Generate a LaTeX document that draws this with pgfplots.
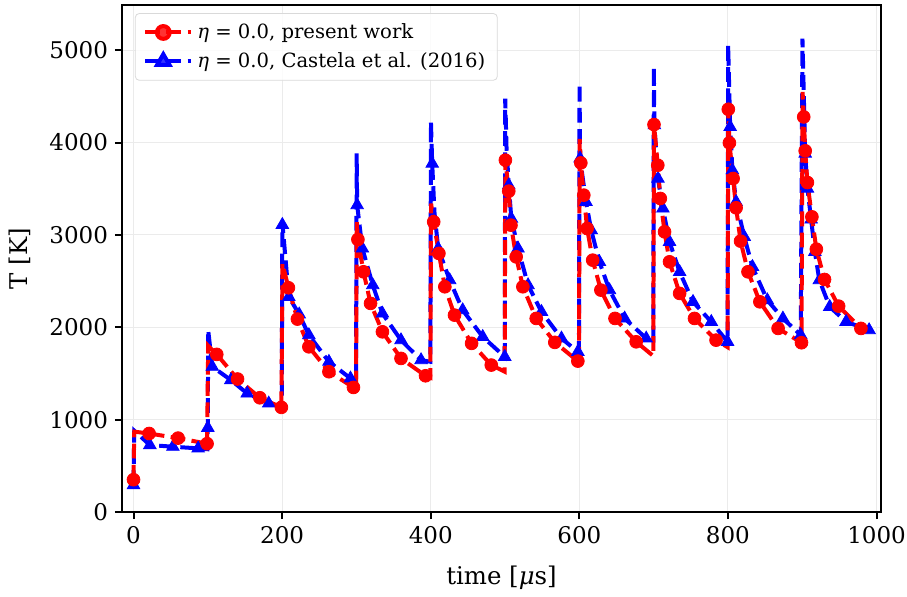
\documentclass[border=0pt]{standalone}
\usepackage{pgfplots}
\pgfplotsset{compat=1.18}
\usepackage{pgfplotstable}
\usepackage{fontspec}
\setmainfont{DejaVu Serif}

\pgfplotstableread{
t T
0 350
1 870
21 850
60 800
99 740
100.5 1800
112 1707
140 1440
170 1237
199 1133
200.5 2690
208.5 2428
220.6 2089
236 1789
263 1519
296 1349
299.5 1340
300.5 3140
302 2951
309.5 2601
319 2259
335 1951
360 1663
393 1475
399.5 1455
400.5 3340
404 3142
411 2800
419 2439
432 2132
455 1826
481.5 1591
499.5 1520
500.5 3810
505 3474
508 3106
515 2763
524 2439
542 2096
567 1837
598 1634
599.5 1630
600.5 4040
602 3780
606 3431
610.5 3070
618 2727
629 2403
648 2096
676.5 1843
699.5 1690
700.5 4195
705.6 3755
709 3395
714.7 3034
721.4 2709
735 2367
755 2096
784 1861
799.5 1785
800.5 4361
802 3997
807 3611
811 3294
817 2933
827 2601
843 2276
867.5 1988
899 1833
900.5 4549
902 4278
904 3911
907 3568
913 3196
919 2846
930 2518
949 2229
979 1988
}\redline

\pgfplotstableread{
t T
0 350
21 850
60 800
99 740
112 1707
140 1440
170 1237
199 1133
208.5 2428
220.6 2089
236 1789
263 1519
296 1349
302 2951
309.5 2601
319 2259
335 1951
360 1663
393 1475
404 3142
411 2800
419 2439
432 2132
455 1826
481.5 1591
500.5 3810
505 3474
508 3106
515 2763
524 2439
542 2096
567 1837
598 1634
602 3780
606 3431
610.5 3070
618 2727
629 2403
648 2096
676.5 1843
700.5 4195
705.6 3755
709 3395
714.7 3034
721.4 2709
735 2367
755 2096
784 1861
800.5 4361
802 3997
807 3611
811 3294
817 2933
827 2601
843 2276
867.5 1988
899 1833
902 4278
904 3911
907 3568
913 3196
919 2846
930 2518
949 2229
979 1988
}\redmarks

\pgfplotstableread{
t T
0 292
1 880
22 725
53 707
87 689
99.5 680
100 912
100.5 1970
106 1573
131 1429
153 1284
182 1176
199.5 1140
200.3 3140
209 2330
223 2140
236 1916
263 1627
292 1447
299.5 1420
300.3 3882
301 3323
308 2854
322 2457
335 2150
360 1861
387 1645
399.5 1627
400.3 4224
402 3773
405 3250
410 2854
425.5 2511
443 2186
470 1897
499.6 1681
500.3 4477
502 3950
505 3539
508.5 3178
517.5 2854
531 2457
549 2168
576 1880
598 1735
599.5 1730
600.3 4640
601 3828
609 3358
616 3052
627 2709
640.6 2403
661 2096
690 1880
699.5 1861
700.3 4820
701 4188
705.8 3611
712.5 3287
721.4 2925
735 2600
753 2276
777.6 2059
799.5 1843
800.3 5054
803 4170
806 3701
811 3358
822 2979
833 2655
853 2294
874 2096
898 1916
900.3 5126
904 3882
907 3503
912 3168
917 2817
923 2511
937 2222
959 2060
990 1970
}\blueline

\pgfplotstableread{
t T
0 292
22 725
53 707
87 689
100 912
106 1573
131 1429
153 1284
182 1176
200.3 3110
209 2330
223 2140
236 1916
263 1627
292 1447
301 3323
308 2854
322 2457
335 2150
360 1861
387 1645
402 3773
410 2854
425.5 2511
443 2186
470 1897
499.6 1681
505 3539
508.5 3178
517.5 2854
531 2457
549 2168
576 1880
598 1735
601 3828
609 3358
616 3052
627 2709
640.6 2403
661 2096
690 1880
701 4188
705.8 3611
712.5 3287
721.4 2925
735 2600
753 2276
777.6 2059
799.5 1843
803 4170
806 3701
811 3358
822 2979
833 2655
853 2294
874 2096
898 1916
904 3882
907 3503
912 3168
917 2817
923 2511
937 2222
959 2060
990 1970
}\bluemarks

\definecolor{gridgray}{RGB}{235,235,235}

\begin{document}
\begin{tikzpicture}
\begin{axis}[
  scale only axis,
  width=379.5pt, height=253.5pt,
  xmin=-15.5, xmax=1006,
  ymin=0, ymax=5490,
  xtick={0,200,400,600,800,1000},
  ytick={0,1000,2000,3000,4000,5000},
  tick pos=left,
  tick align=outside,
  major tick length=3.5pt,
  every tick/.style={black, line width=1pt},
  axis line style={line width=1pt},
  grid=major,
  major grid style={gridgray, line width=0.5pt},
  /pgf/number format/assume math mode=true,
  /pgf/number format/1000 sep={},
  tick label style={font=\fontsize{11.5}{13}\selectfont},
  xlabel={time [\textit{μ}s]},
  ylabel={T [K]},
  every axis y label/.style={at={(axis description cs:-0.134,0.5)}, rotate=90, anchor=center, font=\fontsize{12.2}{14}\selectfont},
  every axis x label/.style={at={(axis description cs:0.5,-0.13)}, anchor=center, font=\fontsize{12.2}{14}\selectfont},
  legend cell align=left,
  legend style={at={(axis description cs:0.017,0.984)}, anchor=north west,
    draw=black!15, rounded corners=2pt, fill=white, fill opacity=0.8, text opacity=1,
    font=\fontsize{9.8}{12}\selectfont, row sep=1.5pt, inner xsep=4pt, inner ysep=3pt},
  legend image code/.code={
    \draw[mark repeat=2,mark phase=2,#1] plot coordinates {(0pt,0pt) (9pt,0pt) (18pt,0pt)};
    \path (0pt,0pt) -- (23pt,0pt);
  },
]
\addlegendimage{red, line width=2pt, dash pattern=on 7.4pt off 3.2pt, mark=*, mark size=3.2pt, mark options={solid, fill=red}}
\addlegendentry{\textit{η} = 0.0, present work}
\addlegendimage{blue, line width=2pt, dash pattern=on 7.4pt off 3.2pt, mark=triangle*, mark size=3.6pt, mark options={solid, fill=blue}}
\addlegendentry{\textit{η} = 0.0, Castela et al. (2016)}

\addplot[forget plot, blue, line width=2pt, dash pattern=on 7.4pt off 3.2pt, no marks] table[x=t,y=T] {\blueline};
\addplot[forget plot, blue, only marks, mark=triangle*, mark size=3.6pt, mark options={fill=blue}] table[x=t,y=T] {\bluemarks};
\addplot[forget plot, red, line width=2pt, dash pattern=on 7.4pt off 3.2pt, no marks] table[x=t,y=T] {\redline};
\addplot[forget plot, red, only marks, mark=*, mark size=3.2pt, mark options={fill=red}] table[x=t,y=T] {\redmarks};

\coordinate (bl) at (rel axis cs:0,0);
\coordinate (tr) at (rel axis cs:1,1);
\end{axis}
\pgfresetboundingbox
\path ([shift={(-61pt,-42pt)}]bl) rectangle ([shift={(13pt,2.5pt)}]tr);
\end{tikzpicture}
\end{document}
